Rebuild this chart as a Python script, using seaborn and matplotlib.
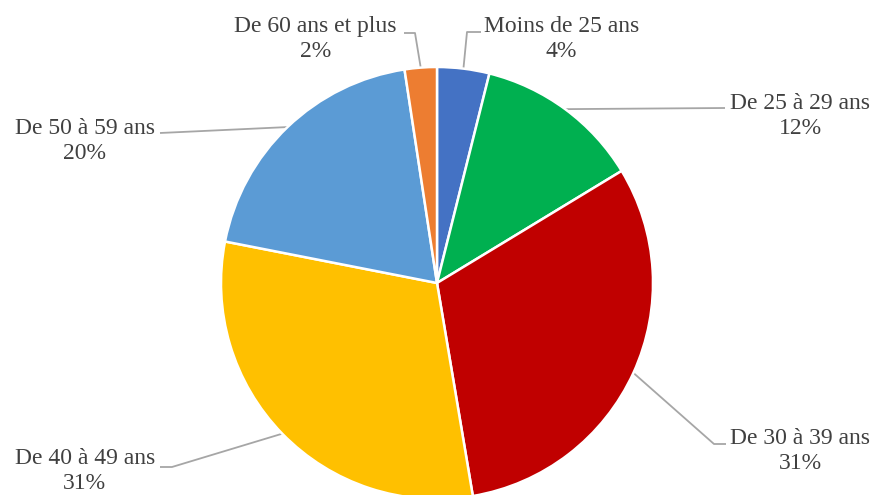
import numpy as np
import matplotlib
matplotlib.use("Agg")
import matplotlib.pyplot as plt
import seaborn as sns

categories = ["Moins de 25 ans", "De 25 à 29 ans", "De 30 à 39 ans",
              "De 40 à 49 ans", "De 50 à 59 ans", "De 60 ans et plus"]
values = [3.9, 12.4, 31.0, 30.7, 19.5, 2.4]
pct_labels = ["4%", "12%", "31%", "31%", "20%", "2%"]
colors = ["#4472C4", "#00B050", "#C00000", "#FFC000", "#5B9BD5", "#ED7D31"]

sns.set_theme(style="white")
plt.rcParams["font.family"] = ["Liberation Serif", "DejaVu Serif"]

W, H = 875, 495
fig = plt.figure(figsize=(W / 100, H / 100), dpi=100)
ax = fig.add_axes([0, 0, 1, 1])

cx, cy, R = 437, H - 283, 216
wedges, _ = ax.pie(values, colors=colors, startangle=90, counterclock=False,
                   center=(cx, cy), radius=R,
                   wedgeprops=dict(edgecolor="white", linewidth=1.8))
ax.set_xlim(0, W)
ax.set_ylim(0, H)
ax.set_aspect("equal")
ax.axis("off")

def P(x, y):
    return (x, H - y)

# layout: (elbow point in pixels, end point in pixels, text anchor, ha)
layout = [
    (P(467, 32), P(481, 32), P(484, 39), "left"),
    (P(725, 108), P(725, 108), P(730, 116), "left"),
    (P(714, 444), P(726, 444), P(730, 451), "left"),
    (P(172, 467), P(160, 467), P(155, 471), "right"),
    (P(160, 133), P(160, 133), P(155, 141), "right"),
    (P(415, 33), P(404, 33), P(397, 39), "right"),
]

lc = "#A6A6A6"
tc = "#404040"
for w, cat, pl, (elb, end, tpos, ha) in zip(wedges, categories, pct_labels, layout):
    mid = np.deg2rad((w.theta1 + w.theta2) / 2)
    sx = cx + R * np.cos(mid)
    sy = cy + R * np.sin(mid)
    ax.plot([sx, elb[0], end[0]], [sy, elb[1], end[1]], color=lc, lw=1.3,
            solid_capstyle="butt", zorder=0.5)
    ax.text(tpos[0], tpos[1], f"{cat}\n{pl}", ha=ha, va="center",
            multialignment="center", fontsize=17, color=tc, linespacing=1.25)

fig.savefig("out.png", dpi=100)
